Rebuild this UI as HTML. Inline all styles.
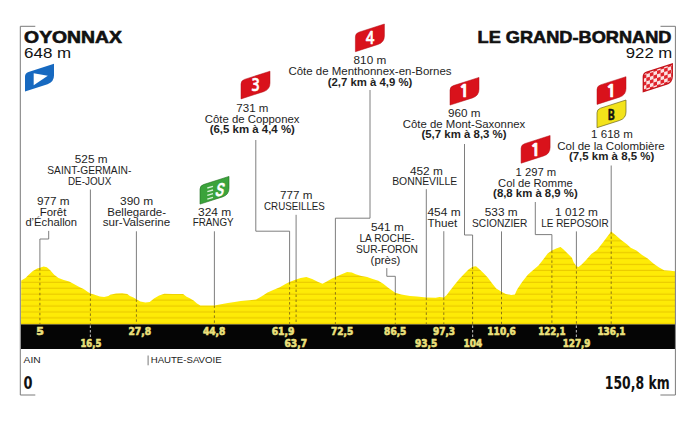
<!DOCTYPE html>
<html><head><meta charset="utf-8"><title>Stage profile Oyonnax - Le Grand-Bornand</title>
<style>html,body{margin:0;padding:0;background:#fff;overflow:hidden}svg{display:block}</style>
</head><body>
<svg width="700" height="422" viewBox="0 0 700 422">
<defs>
<pattern id="stripes" patternUnits="userSpaceOnUse" x="0" y="87.20" width="10" height="5.93">
<rect x="0" y="0" width="10" height="5.93" fill="#feeb06"/>
<rect x="0" y="4.75" width="10" height="1.18" fill="#eacb00"/>
</pattern>
</defs>
<rect x="0" y="0" width="700" height="422" fill="#ffffff"/>
<polygon points="21.0,324.4 21.2,280.6 25.5,277.9 28.7,274.7 32.9,271 37.2,268.6 39.8,267.8 43.6,266.5 46.8,267.3 50,269.9 54.2,274.7 58.5,277.9 63.8,280 69.2,281.6 73.4,283.8 79.3,287 83.6,289.1 87.9,292.1 90.4,293.4 94.7,294.7 99.9,296.4 104.1,296.9 108.4,296 110.1,294.7 116.1,293.4 122.1,293.2 127.3,293.9 129.9,296 133.4,297.6 136.4,299.3 140.3,301.4 145.4,302.5 149.7,302.1 154,298.4 159.1,295.4 164.3,293.7 172.9,293.9 183.1,294.1 186.6,296.7 189.3,297.9 193.6,300.4 197,303.4 200.4,305.4 207.3,305.6 214.4,305.4 221,304.3 227.9,303 234.7,302.1 240.7,301.1 249.5,300.3 256.1,299.6 261.8,296.3 267.5,292.5 273.2,290.1 279.8,287.3 285.5,284 289.5,282.1 295.9,279.6 300.7,278 306.4,277.1 312.1,279 317.7,281.8 322.5,283.7 327.2,281.3 332,278.5 335.4,277.1 340.5,274.7 347.1,272.1 351.9,272.6 355.7,274.2 361.4,275.9 367.1,276.9 372.7,279 378.4,280.7 383.2,283.7 387.9,287.5 391.7,290.3 395.3,292.7 401.2,294.6 410,296 416.9,296.5 426.3,297.4 435.8,297.7 439.4,296.9 443.8,297.4 446.5,295.3 450.1,290.6 454.8,284.6 459.5,278.7 464.3,273.7 468.5,269.4 472.6,266.7 476,266.2 479.2,268.9 483.4,273.1 487.7,277.4 492,283.2 496.2,288.6 501.5,291.8 505.8,293.9 511.2,295 514.9,294.4 517.1,289.5 522.1,281.9 527.8,274.8 533.5,269.8 538.5,265.6 543.4,259.2 547.7,253.5 551.9,250.4 556.2,248.5 560.5,247.1 563.3,249.2 567.6,253.5 571.9,257.7 573.6,262.3 576.4,266.2 578.5,267 581.4,264.8 585.6,260.5 591.3,254.1 597,249.9 602.7,242.8 607,237.1 611.2,231.4 615.5,235 621.2,239.9 626.9,244.2 630.7,247.8 636.4,250.6 642.1,254.9 647.7,258.5 653.4,263.4 659.1,267.4 664.1,270.3 670.5,270.8 675,271.3 675.0,324.4" fill="url(#stripes)"/>
<rect x="21.0" y="324.4" width="654.0" height="24.600000000000023" fill="#050505"/>
<path d="M35.3,26.3 H20.3 V395 H35.3" fill="none" stroke="#7a7a7a" stroke-width="1"/>
<path d="M660.5,26.3 H675.4 V395 H660.4" fill="none" stroke="#7a7a7a" stroke-width="1"/>
<path d="M90.4,189.5 L90.4,293.4" fill="none" stroke="#6f6f6f" stroke-width="0.9"/>
<line x1="90.4" y1="293.4" x2="90.4" y2="324.4" stroke="#8c7614" stroke-width="1" stroke-dasharray="2.5,2.5"/>
<path d="M48.7,230.9 L48.7,239.0 L39.9,239.0 L39.9,267.8" fill="none" stroke="#6f6f6f" stroke-width="0.9"/>
<line x1="39.9" y1="267.8" x2="39.9" y2="324.4" stroke="#8c7614" stroke-width="1" stroke-dasharray="2.5,2.5"/>
<path d="M136.4,231.3 L136.4,299.3" fill="none" stroke="#6f6f6f" stroke-width="0.9"/>
<line x1="136.4" y1="299.3" x2="136.4" y2="324.4" stroke="#8c7614" stroke-width="1" stroke-dasharray="2.5,2.5"/>
<path d="M214.4,231.3 L214.4,305.4" fill="none" stroke="#6f6f6f" stroke-width="0.9"/>
<line x1="214.4" y1="305.4" x2="214.4" y2="324.4" stroke="#8c7614" stroke-width="1" stroke-dasharray="2.5,2.5"/>
<path d="M255.8,140.0 L255.8,231.2 L289.6,231.2 L289.6,282.1" fill="none" stroke="#6f6f6f" stroke-width="0.9"/>
<line x1="289.6" y1="282.1" x2="289.6" y2="324.4" stroke="#8c7614" stroke-width="1" stroke-dasharray="2.5,2.5"/>
<path d="M296.1,214.8 L296.1,279.5" fill="none" stroke="#6f6f6f" stroke-width="0.9"/>
<line x1="296.1" y1="279.5" x2="296.1" y2="324.4" stroke="#8c7614" stroke-width="1" stroke-dasharray="2.5,2.5"/>
<path d="M370,90.0 L370,218.2 L335.4,218.2 L335.4,277.1" fill="none" stroke="#6f6f6f" stroke-width="0.9"/>
<line x1="335.4" y1="277.1" x2="335.4" y2="324.4" stroke="#8c7614" stroke-width="1" stroke-dasharray="2.5,2.5"/>
<path d="M386.8,268.1 L386.8,276.3 L395.3,276.3 L395.3,292.7" fill="none" stroke="#6f6f6f" stroke-width="0.9"/>
<line x1="395.3" y1="292.7" x2="395.3" y2="324.4" stroke="#8c7614" stroke-width="1" stroke-dasharray="2.5,2.5"/>
<path d="M426.3,189.2 L426.3,297.4" fill="none" stroke="#6f6f6f" stroke-width="0.9"/>
<line x1="426.3" y1="297.4" x2="426.3" y2="324.4" stroke="#8c7614" stroke-width="1" stroke-dasharray="2.5,2.5"/>
<path d="M443.8,231.2 L443.8,297.4" fill="none" stroke="#6f6f6f" stroke-width="0.9"/>
<line x1="443.8" y1="297.4" x2="443.8" y2="324.4" stroke="#8c7614" stroke-width="1" stroke-dasharray="2.5,2.5"/>
<path d="M464.5,144.0 L464.5,235.0 L472.6,235.0 L472.6,266.7" fill="none" stroke="#6f6f6f" stroke-width="0.9"/>
<line x1="472.6" y1="266.7" x2="472.6" y2="324.4" stroke="#8c7614" stroke-width="1" stroke-dasharray="2.5,2.5"/>
<path d="M501.5,231.4 L501.5,291.8" fill="none" stroke="#6f6f6f" stroke-width="0.9"/>
<line x1="501.5" y1="291.8" x2="501.5" y2="324.4" stroke="#8c7614" stroke-width="1" stroke-dasharray="2.5,2.5"/>
<path d="M535.3,202.0 L535.3,234.6 L551.9,234.6 L551.9,250.4" fill="none" stroke="#6f6f6f" stroke-width="0.9"/>
<line x1="551.9" y1="250.4" x2="551.9" y2="324.4" stroke="#8c7614" stroke-width="1" stroke-dasharray="2.5,2.5"/>
<path d="M576.4,231.4 L576.4,266.2" fill="none" stroke="#6f6f6f" stroke-width="0.9"/>
<line x1="576.4" y1="266.2" x2="576.4" y2="324.4" stroke="#8c7614" stroke-width="1" stroke-dasharray="2.5,2.5"/>
<path d="M611.2,165.5 L611.2,231.4" fill="none" stroke="#6f6f6f" stroke-width="0.9"/>
<line x1="611.2" y1="231.4" x2="611.2" y2="324.4" stroke="#8c7614" stroke-width="1" stroke-dasharray="2.5,2.5"/>
<line x1="90.4" y1="325.4" x2="90.4" y2="338.5" stroke="#a5a5a5" stroke-width="1.2" stroke-dasharray="2.5,2"/>
<line x1="472.6" y1="325.4" x2="472.6" y2="338.5" stroke="#a5a5a5" stroke-width="1.2" stroke-dasharray="2.5,2"/>
<line x1="576.4" y1="325.4" x2="576.4" y2="338.5" stroke="#a5a5a5" stroke-width="1.2" stroke-dasharray="2.5,2"/>
<text x="24.1" y="43.1" font-size="16.3" font-weight="bold" fill="#111" stroke="#111" stroke-width="0.6" textLength="97.9" lengthAdjust="spacingAndGlyphs" font-family='"Liberation Sans", "DejaVu Sans", sans-serif'>OYONNAX</text>
<text x="24.1" y="57.9" font-size="15" font-weight="normal" fill="#111" textLength="47.1" lengthAdjust="spacingAndGlyphs" font-family='"Liberation Sans", "DejaVu Sans", sans-serif'>648 m</text>
<text x="477.6" y="43.3" font-size="16.3" font-weight="bold" fill="#111" stroke="#111" stroke-width="0.6" textLength="193.8" lengthAdjust="spacingAndGlyphs" font-family='"Liberation Sans", "DejaVu Sans", sans-serif'>LE GRAND-BORNAND</text>
<text x="625.8" y="57.7" font-size="15" font-weight="normal" fill="#111" textLength="46.5" lengthAdjust="spacingAndGlyphs" font-family='"Liberation Sans", "DejaVu Sans", sans-serif'>922 m</text>
<text x="74.8" y="163.1" font-size="10.5" font-weight="normal" fill="#1e1e1e" textLength="32.7" lengthAdjust="spacingAndGlyphs" font-family='"Liberation Sans", "DejaVu Sans", sans-serif'>525 m</text>
<text x="47.3" y="174.0" font-size="10.5" font-weight="normal" fill="#1e1e1e" textLength="84.0" lengthAdjust="spacingAndGlyphs" font-family='"Liberation Sans", "DejaVu Sans", sans-serif'>SAINT-GERMAIN-</text>
<text x="68.0" y="184.5" font-size="10.5" font-weight="normal" fill="#1e1e1e" textLength="43.3" lengthAdjust="spacingAndGlyphs" font-family='"Liberation Sans", "DejaVu Sans", sans-serif'>DE-JOUX</text>
<text x="36.9" y="205.0" font-size="10.5" font-weight="normal" fill="#1e1e1e" textLength="32.6" lengthAdjust="spacingAndGlyphs" font-family='"Liberation Sans", "DejaVu Sans", sans-serif'>977 m</text>
<text x="39.7" y="215.7" font-size="10.5" font-weight="normal" fill="#1e1e1e" textLength="26.7" lengthAdjust="spacingAndGlyphs" font-family='"Liberation Sans", "DejaVu Sans", sans-serif'>Forêt</text>
<text x="25.4" y="226.3" font-size="10.5" font-weight="normal" fill="#1e1e1e" textLength="51.7" lengthAdjust="spacingAndGlyphs" font-family='"Liberation Sans", "DejaVu Sans", sans-serif'>d’Échallon</text>
<text x="120.1" y="204.8" font-size="10.5" font-weight="normal" fill="#1e1e1e" textLength="33.1" lengthAdjust="spacingAndGlyphs" font-family='"Liberation Sans", "DejaVu Sans", sans-serif'>390 m</text>
<text x="107.3" y="215.6" font-size="10.5" font-weight="normal" fill="#1e1e1e" textLength="58.7" lengthAdjust="spacingAndGlyphs" font-family='"Liberation Sans", "DejaVu Sans", sans-serif'>Bellegarde-</text>
<text x="102.7" y="226.4" font-size="10.5" font-weight="normal" fill="#1e1e1e" textLength="67.5" lengthAdjust="spacingAndGlyphs" font-family='"Liberation Sans", "DejaVu Sans", sans-serif'>sur-Valserine</text>
<text x="198.0" y="215.6" font-size="10.5" font-weight="normal" fill="#1e1e1e" textLength="33.3" lengthAdjust="spacingAndGlyphs" font-family='"Liberation Sans", "DejaVu Sans", sans-serif'>324 m</text>
<text x="192.7" y="226.4" font-size="10.5" font-weight="normal" fill="#1e1e1e" textLength="41.0" lengthAdjust="spacingAndGlyphs" font-family='"Liberation Sans", "DejaVu Sans", sans-serif'>FRANGY</text>
<text x="236.3" y="112.1" font-size="10.5" font-weight="normal" fill="#1e1e1e" textLength="32.1" lengthAdjust="spacingAndGlyphs" font-family='"Liberation Sans", "DejaVu Sans", sans-serif'>731 m</text>
<text x="204.8" y="123.1" font-size="10.5" font-weight="normal" fill="#1e1e1e" textLength="94.7" lengthAdjust="spacingAndGlyphs" font-family='"Liberation Sans", "DejaVu Sans", sans-serif'>Côte de Copponex</text>
<text x="209.7" y="133.1" font-size="10.5" font-weight="bold" fill="#1e1e1e" textLength="85.2" lengthAdjust="spacingAndGlyphs" font-family='"Liberation Sans", "DejaVu Sans", sans-serif'>(6,5 km à 4,4 %)</text>
<text x="280.1" y="199.1" font-size="10.5" font-weight="normal" fill="#1e1e1e" textLength="32.4" lengthAdjust="spacingAndGlyphs" font-family='"Liberation Sans", "DejaVu Sans", sans-serif'>777 m</text>
<text x="264.0" y="209.9" font-size="10.5" font-weight="normal" fill="#1e1e1e" textLength="60.9" lengthAdjust="spacingAndGlyphs" font-family='"Liberation Sans", "DejaVu Sans", sans-serif'>CRUSEILLES</text>
<text x="353.6" y="63.5" font-size="10.5" font-weight="normal" fill="#1e1e1e" textLength="32.6" lengthAdjust="spacingAndGlyphs" font-family='"Liberation Sans", "DejaVu Sans", sans-serif'>810 m</text>
<text x="288.4" y="74.5" font-size="10.5" font-weight="normal" fill="#1e1e1e" textLength="163.2" lengthAdjust="spacingAndGlyphs" font-family='"Liberation Sans", "DejaVu Sans", sans-serif'>Côte de Menthonnex-en-Bornes</text>
<text x="327.7" y="85.5" font-size="10.5" font-weight="bold" fill="#1e1e1e" textLength="84.6" lengthAdjust="spacingAndGlyphs" font-family='"Liberation Sans", "DejaVu Sans", sans-serif'>(2,7 km à 4,9 %)</text>
<text x="371.0" y="230.7" font-size="10.5" font-weight="normal" fill="#1e1e1e" textLength="32.8" lengthAdjust="spacingAndGlyphs" font-family='"Liberation Sans", "DejaVu Sans", sans-serif'>541 m</text>
<text x="359.4" y="241.5" font-size="10.5" font-weight="normal" fill="#1e1e1e" textLength="55.1" lengthAdjust="spacingAndGlyphs" font-family='"Liberation Sans", "DejaVu Sans", sans-serif'>LA ROCHE-</text>
<text x="356.0" y="252.8" font-size="10.5" font-weight="normal" fill="#1e1e1e" textLength="61.8" lengthAdjust="spacingAndGlyphs" font-family='"Liberation Sans", "DejaVu Sans", sans-serif'>SUR-FORON</text>
<text x="370.6" y="263.5" font-size="10.5" font-weight="normal" fill="#1e1e1e" textLength="29.8" lengthAdjust="spacingAndGlyphs" font-family='"Liberation Sans", "DejaVu Sans", sans-serif'>(près)</text>
<text x="409.9" y="174.5" font-size="10.5" font-weight="normal" fill="#1e1e1e" textLength="32.9" lengthAdjust="spacingAndGlyphs" font-family='"Liberation Sans", "DejaVu Sans", sans-serif'>452 m</text>
<text x="392.2" y="185.2" font-size="10.5" font-weight="normal" fill="#1e1e1e" textLength="65.1" lengthAdjust="spacingAndGlyphs" font-family='"Liberation Sans", "DejaVu Sans", sans-serif'>BONNEVILLE</text>
<text x="427.5" y="215.5" font-size="10.5" font-weight="normal" fill="#1e1e1e" textLength="33.1" lengthAdjust="spacingAndGlyphs" font-family='"Liberation Sans", "DejaVu Sans", sans-serif'>454 m</text>
<text x="427.5" y="226.6" font-size="10.5" font-weight="normal" fill="#1e1e1e" textLength="29.8" lengthAdjust="spacingAndGlyphs" font-family='"Liberation Sans", "DejaVu Sans", sans-serif'>Thuet</text>
<text x="448.0" y="117.0" font-size="10.5" font-weight="normal" fill="#1e1e1e" textLength="32.5" lengthAdjust="spacingAndGlyphs" font-family='"Liberation Sans", "DejaVu Sans", sans-serif'>960 m</text>
<text x="402.8" y="128.0" font-size="10.5" font-weight="normal" fill="#1e1e1e" textLength="122.4" lengthAdjust="spacingAndGlyphs" font-family='"Liberation Sans", "DejaVu Sans", sans-serif'>Côte de Mont-Saxonnex</text>
<text x="421.4" y="138.0" font-size="10.5" font-weight="bold" fill="#1e1e1e" textLength="85.2" lengthAdjust="spacingAndGlyphs" font-family='"Liberation Sans", "DejaVu Sans", sans-serif'>(5,7 km à 8,3 %)</text>
<text x="484.8" y="215.8" font-size="10.5" font-weight="normal" fill="#1e1e1e" textLength="32.8" lengthAdjust="spacingAndGlyphs" font-family='"Liberation Sans", "DejaVu Sans", sans-serif'>533 m</text>
<text x="472.0" y="226.7" font-size="10.5" font-weight="normal" fill="#1e1e1e" textLength="55.4" lengthAdjust="spacingAndGlyphs" font-family='"Liberation Sans", "DejaVu Sans", sans-serif'>SCIONZIER</text>
<text x="515.5" y="176.0" font-size="10.5" font-weight="normal" fill="#1e1e1e" textLength="40.7" lengthAdjust="spacingAndGlyphs" font-family='"Liberation Sans", "DejaVu Sans", sans-serif'>1 297 m</text>
<text x="498.1" y="187.2" font-size="10.5" font-weight="normal" fill="#1e1e1e" textLength="74.6" lengthAdjust="spacingAndGlyphs" font-family='"Liberation Sans", "DejaVu Sans", sans-serif'>Col de Romme</text>
<text x="493.1" y="196.5" font-size="10.5" font-weight="bold" fill="#1e1e1e" textLength="84.6" lengthAdjust="spacingAndGlyphs" font-family='"Liberation Sans", "DejaVu Sans", sans-serif'>(8,8 km à 8,9 %)</text>
<text x="555.1" y="215.8" font-size="10.5" font-weight="normal" fill="#1e1e1e" textLength="42.8" lengthAdjust="spacingAndGlyphs" font-family='"Liberation Sans", "DejaVu Sans", sans-serif'>1 012 m</text>
<text x="541.2" y="226.7" font-size="10.5" font-weight="normal" fill="#1e1e1e" textLength="67.6" lengthAdjust="spacingAndGlyphs" font-family='"Liberation Sans", "DejaVu Sans", sans-serif'>LE REPOSOIR</text>
<text x="591.1" y="138.2" font-size="10.5" font-weight="normal" fill="#1e1e1e" textLength="41.7" lengthAdjust="spacingAndGlyphs" font-family='"Liberation Sans", "DejaVu Sans", sans-serif'>1 618 m</text>
<text x="557.2" y="149.9" font-size="10.5" font-weight="normal" fill="#1e1e1e" textLength="107.5" lengthAdjust="spacingAndGlyphs" font-family='"Liberation Sans", "DejaVu Sans", sans-serif'>Col de la Colombière</text>
<text x="568.9" y="159.8" font-size="10.5" font-weight="bold" fill="#1e1e1e" textLength="85.4" lengthAdjust="spacingAndGlyphs" font-family='"Liberation Sans", "DejaVu Sans", sans-serif'>(7,5 km à 8,5 %)</text>
<text x="36.2" y="335.3" font-size="10.8" font-weight="bold" fill="#ebe07c" font-stretch="condensed" stroke="#ebe07c" stroke-width="0.6" textLength="7.6" lengthAdjust="spacingAndGlyphs" font-family='"DejaVu Sans", "Liberation Sans", sans-serif'>5</text>
<text x="128.4" y="335.3" font-size="10.8" font-weight="bold" fill="#ebe07c" font-stretch="condensed" stroke="#ebe07c" stroke-width="0.6" textLength="22.7" lengthAdjust="spacingAndGlyphs" font-family='"DejaVu Sans", "Liberation Sans", sans-serif'>27,8</text>
<text x="202.9" y="335.3" font-size="10.8" font-weight="bold" fill="#ebe07c" font-stretch="condensed" stroke="#ebe07c" stroke-width="0.6" textLength="22.5" lengthAdjust="spacingAndGlyphs" font-family='"DejaVu Sans", "Liberation Sans", sans-serif'>44,8</text>
<text x="271.7" y="335.3" font-size="10.8" font-weight="bold" fill="#ebe07c" font-stretch="condensed" stroke="#ebe07c" stroke-width="0.6" textLength="22.7" lengthAdjust="spacingAndGlyphs" font-family='"DejaVu Sans", "Liberation Sans", sans-serif'>61,9</text>
<text x="331.0" y="335.3" font-size="10.8" font-weight="bold" fill="#ebe07c" font-stretch="condensed" stroke="#ebe07c" stroke-width="0.6" textLength="22.3" lengthAdjust="spacingAndGlyphs" font-family='"DejaVu Sans", "Liberation Sans", sans-serif'>72,5</text>
<text x="384.1" y="335.3" font-size="10.8" font-weight="bold" fill="#ebe07c" font-stretch="condensed" stroke="#ebe07c" stroke-width="0.6" textLength="22.3" lengthAdjust="spacingAndGlyphs" font-family='"DejaVu Sans", "Liberation Sans", sans-serif'>86,5</text>
<text x="433.0" y="335.3" font-size="10.8" font-weight="bold" fill="#ebe07c" font-stretch="condensed" stroke="#ebe07c" stroke-width="0.6" textLength="22.1" lengthAdjust="spacingAndGlyphs" font-family='"DejaVu Sans", "Liberation Sans", sans-serif'>97,3</text>
<text x="487.3" y="335.3" font-size="10.8" font-weight="bold" fill="#ebe07c" font-stretch="condensed" stroke="#ebe07c" stroke-width="0.6" textLength="28.6" lengthAdjust="spacingAndGlyphs" font-family='"DejaVu Sans", "Liberation Sans", sans-serif'>110,6</text>
<text x="538.2" y="335.3" font-size="10.8" font-weight="bold" fill="#ebe07c" font-stretch="condensed" stroke="#ebe07c" stroke-width="0.6" textLength="27.4" lengthAdjust="spacingAndGlyphs" font-family='"DejaVu Sans", "Liberation Sans", sans-serif'>122,1</text>
<text x="597.4" y="335.3" font-size="10.8" font-weight="bold" fill="#ebe07c" font-stretch="condensed" stroke="#ebe07c" stroke-width="0.6" textLength="28.1" lengthAdjust="spacingAndGlyphs" font-family='"DejaVu Sans", "Liberation Sans", sans-serif'>136,1</text>
<text x="80.4" y="347.4" font-size="10.8" font-weight="bold" fill="#ebe07c" font-stretch="condensed" stroke="#ebe07c" stroke-width="0.6" textLength="20.9" lengthAdjust="spacingAndGlyphs" font-family='"DejaVu Sans", "Liberation Sans", sans-serif'>16,5</text>
<text x="284.5" y="347.4" font-size="10.8" font-weight="bold" fill="#ebe07c" font-stretch="condensed" stroke="#ebe07c" stroke-width="0.6" textLength="22.5" lengthAdjust="spacingAndGlyphs" font-family='"DejaVu Sans", "Liberation Sans", sans-serif'>63,7</text>
<text x="415.0" y="347.4" font-size="10.8" font-weight="bold" fill="#ebe07c" font-stretch="condensed" stroke="#ebe07c" stroke-width="0.6" textLength="22.3" lengthAdjust="spacingAndGlyphs" font-family='"DejaVu Sans", "Liberation Sans", sans-serif'>93,5</text>
<text x="463.5" y="347.4" font-size="10.8" font-weight="bold" fill="#ebe07c" font-stretch="condensed" stroke="#ebe07c" stroke-width="0.6" textLength="18.7" lengthAdjust="spacingAndGlyphs" font-family='"DejaVu Sans", "Liberation Sans", sans-serif'>104</text>
<text x="562.7" y="347.4" font-size="10.8" font-weight="bold" fill="#ebe07c" font-stretch="condensed" stroke="#ebe07c" stroke-width="0.6" textLength="27.8" lengthAdjust="spacingAndGlyphs" font-family='"DejaVu Sans", "Liberation Sans", sans-serif'>127,9</text>
<text x="23.6" y="362.8" font-size="9" font-weight="normal" fill="#222" textLength="17.1" lengthAdjust="spacingAndGlyphs" font-family='"Liberation Sans", "DejaVu Sans", sans-serif'>AIN</text>
<line x1="148.1" y1="355.5" x2="148.1" y2="365.3" stroke="#777" stroke-width="1"/>
<text x="150.7" y="363.0" font-size="9" font-weight="normal" fill="#222" textLength="70.9" lengthAdjust="spacingAndGlyphs" font-family='"Liberation Sans", "DejaVu Sans", sans-serif'>HAUTE-SAVOIE</text>
<text x="23.6" y="388.8" font-size="18.5" font-weight="bold" fill="#111" font-stretch="condensed" textLength="9.0" lengthAdjust="spacingAndGlyphs" font-family='"DejaVu Sans", "Liberation Sans", sans-serif'>0</text>
<text x="604.8" y="388.8" font-size="18.5" font-weight="bold" fill="#111" font-stretch="condensed" textLength="64.8" lengthAdjust="spacingAndGlyphs" font-family='"DejaVu Sans", "Liberation Sans", sans-serif'>150,8 km</text>
<path d="M25.00,91.40 L25.00,76.50 Q25.00,73.00 28.50,71.88 L54.00,63.70 L54.00,75.60 Q54.00,82.10 47.50,84.18 Z" fill="#1769c0" stroke="none" stroke-width="0"/>
<path d="M33.7,73.3 L33.7,85.3 L47.8,75.8 Z" fill="#ffffff"/>
<path d="M200.00,204.10 L200.00,189.20 Q200.00,185.70 203.50,184.58 L229.00,176.40 L229.00,188.30 Q229.00,194.80 222.50,196.88 Z" fill="#3ba33b" stroke="#1f6e1f" stroke-width="0.6"/>
<text x="0" y="0" font-size="18.6" font-weight="bold" fill="#fff" stroke="#fff" stroke-width="0.4" text-anchor="middle" font-family='"Liberation Sans", "DejaVu Sans", sans-serif' transform="translate(218.6,196.2) skewX(-14) scale(0.68,1)">S</text>
<line x1="207.3" y1="188.0" x2="213" y2="186.3" stroke="#d8f2d8" stroke-width="1.4"/>
<line x1="207.3" y1="191.7" x2="213" y2="190.0" stroke="#d8f2d8" stroke-width="1.4"/>
<line x1="207.3" y1="195.4" x2="213" y2="193.7" stroke="#d8f2d8" stroke-width="1.4"/>
<line x1="207.3" y1="199.1" x2="213" y2="197.4" stroke="#d8f2d8" stroke-width="1.4"/>
<path d="M241.00,98.90 L241.00,84.00 Q241.00,80.50 244.50,79.38 L270.00,71.20 L270.00,83.10 Q270.00,89.60 263.50,91.68 Z" fill="#d9121b" stroke="#b00d14" stroke-width="0.5"/>
<text x="0" y="91.30" font-size="16.5" font-weight="bold" fill="#fff" stroke="#fff" stroke-width="0.55" text-anchor="middle" font-family='"NanumGothic", "Liberation Sans", sans-serif' transform="translate(255.60,0) scale(0.87,1)">3</text>
<path d="M355.40,51.70 L355.40,36.80 Q355.40,33.30 358.90,32.18 L384.40,24.00 L384.40,35.90 Q384.40,42.40 377.90,44.48 Z" fill="#d9121b" stroke="#b00d14" stroke-width="0.5"/>
<text x="0" y="44.10" font-size="16.5" font-weight="bold" fill="#fff" stroke="#fff" stroke-width="0.55" text-anchor="middle" font-family='"NanumGothic", "Liberation Sans", sans-serif' transform="translate(370.00,0) scale(0.87,1)">4</text>
<path d="M450.00,105.10 L450.00,90.20 Q450.00,86.70 453.50,85.58 L479.00,77.40 L479.00,89.30 Q479.00,95.80 472.50,97.88 Z" fill="#d9121b" stroke="#b00d14" stroke-width="0.5"/>
<text x="0" y="97.50" font-size="16.5" font-weight="bold" fill="#fff" stroke="#fff" stroke-width="0.75" text-anchor="middle" font-family='"NanumGothic", "Liberation Sans", sans-serif' transform="translate(464.30,0) scale(1.1,1)">1</text>
<path d="M521.10,163.20 L521.10,148.30 Q521.10,144.80 524.60,143.68 L550.10,135.50 L550.10,147.40 Q550.10,153.90 543.60,155.98 Z" fill="#d9121b" stroke="#b00d14" stroke-width="0.5"/>
<text x="0" y="155.60" font-size="16.5" font-weight="bold" fill="#fff" stroke="#fff" stroke-width="0.75" text-anchor="middle" font-family='"NanumGothic", "Liberation Sans", sans-serif' transform="translate(535.40,0) scale(1.1,1)">1</text>
<path d="M597.00,104.40 L597.00,89.50 Q597.00,86.00 600.50,84.88 L626.00,76.70 L626.00,88.60 Q626.00,95.10 619.50,97.18 Z" fill="#d9121b" stroke="#b00d14" stroke-width="0.5"/>
<text x="0" y="96.80" font-size="16.5" font-weight="bold" fill="#fff" stroke="#fff" stroke-width="0.75" text-anchor="middle" font-family='"NanumGothic", "Liberation Sans", sans-serif' transform="translate(611.30,0) scale(1.1,1)">1</text>
<path d="M597.00,127.70 L597.00,112.80 Q597.00,109.30 600.50,108.18 L626.00,100.00 L626.00,111.90 Q626.00,118.40 619.50,120.48 Z" fill="#f3e31a" stroke="#6b6420" stroke-width="0.7"/>
<text x="0" y="119.83" font-size="14" font-weight="bold" fill="#111" stroke="#111" stroke-width="0.5" text-anchor="middle" font-family='"NanumGothic", "Liberation Sans", sans-serif' transform="translate(611.20,0) scale(0.9,1)">B</text>
<clipPath id="cf"><path d="M643.30,91.70 L643.30,76.80 Q643.30,73.30 646.80,72.18 L672.30,64.00 L672.30,75.90 Q672.30,82.40 665.80,84.48 Z"/></clipPath>
<g clip-path="url(#cf)"><path d="M643.30,91.70 L643.30,76.80 Q643.30,73.30 646.80,72.18 L672.30,64.00 L672.30,75.90 Q672.30,82.40 665.80,84.48 Z" fill="#fbe3e3"/><path d="M642.80,61.16 l3.55,-1.14 l0,3.55 l-3.55,1.14 Z" fill="#e0242c"/><path d="M642.80,68.26 l3.55,-1.14 l0,3.55 l-3.55,1.14 Z" fill="#e0242c"/><path d="M642.80,75.36 l3.55,-1.14 l0,3.55 l-3.55,1.14 Z" fill="#e0242c"/><path d="M642.80,82.46 l3.55,-1.14 l0,3.55 l-3.55,1.14 Z" fill="#e0242c"/><path d="M642.80,89.56 l3.55,-1.14 l0,3.55 l-3.55,1.14 Z" fill="#e0242c"/><path d="M642.80,96.66 l3.55,-1.14 l0,3.55 l-3.55,1.14 Z" fill="#e0242c"/><path d="M646.35,63.57 l3.55,-1.14 l0,3.55 l-3.55,1.14 Z" fill="#e0242c"/><path d="M646.35,70.67 l3.55,-1.14 l0,3.55 l-3.55,1.14 Z" fill="#e0242c"/><path d="M646.35,77.77 l3.55,-1.14 l0,3.55 l-3.55,1.14 Z" fill="#e0242c"/><path d="M646.35,84.87 l3.55,-1.14 l0,3.55 l-3.55,1.14 Z" fill="#e0242c"/><path d="M646.35,91.97 l3.55,-1.14 l0,3.55 l-3.55,1.14 Z" fill="#e0242c"/><path d="M646.35,99.07 l3.55,-1.14 l0,3.55 l-3.55,1.14 Z" fill="#e0242c"/><path d="M649.90,58.89 l3.55,-1.14 l0,3.55 l-3.55,1.14 Z" fill="#e0242c"/><path d="M649.90,65.99 l3.55,-1.14 l0,3.55 l-3.55,1.14 Z" fill="#e0242c"/><path d="M649.90,73.09 l3.55,-1.14 l0,3.55 l-3.55,1.14 Z" fill="#e0242c"/><path d="M649.90,80.19 l3.55,-1.14 l0,3.55 l-3.55,1.14 Z" fill="#e0242c"/><path d="M649.90,87.29 l3.55,-1.14 l0,3.55 l-3.55,1.14 Z" fill="#e0242c"/><path d="M649.90,94.39 l3.55,-1.14 l0,3.55 l-3.55,1.14 Z" fill="#e0242c"/><path d="M653.45,61.30 l3.55,-1.14 l0,3.55 l-3.55,1.14 Z" fill="#e0242c"/><path d="M653.45,68.40 l3.55,-1.14 l0,3.55 l-3.55,1.14 Z" fill="#e0242c"/><path d="M653.45,75.50 l3.55,-1.14 l0,3.55 l-3.55,1.14 Z" fill="#e0242c"/><path d="M653.45,82.60 l3.55,-1.14 l0,3.55 l-3.55,1.14 Z" fill="#e0242c"/><path d="M653.45,89.70 l3.55,-1.14 l0,3.55 l-3.55,1.14 Z" fill="#e0242c"/><path d="M653.45,96.80 l3.55,-1.14 l0,3.55 l-3.55,1.14 Z" fill="#e0242c"/><path d="M657.00,56.62 l3.55,-1.14 l0,3.55 l-3.55,1.14 Z" fill="#e0242c"/><path d="M657.00,63.72 l3.55,-1.14 l0,3.55 l-3.55,1.14 Z" fill="#e0242c"/><path d="M657.00,70.82 l3.55,-1.14 l0,3.55 l-3.55,1.14 Z" fill="#e0242c"/><path d="M657.00,77.92 l3.55,-1.14 l0,3.55 l-3.55,1.14 Z" fill="#e0242c"/><path d="M657.00,85.02 l3.55,-1.14 l0,3.55 l-3.55,1.14 Z" fill="#e0242c"/><path d="M657.00,92.12 l3.55,-1.14 l0,3.55 l-3.55,1.14 Z" fill="#e0242c"/><path d="M660.55,59.03 l3.55,-1.14 l0,3.55 l-3.55,1.14 Z" fill="#e0242c"/><path d="M660.55,66.13 l3.55,-1.14 l0,3.55 l-3.55,1.14 Z" fill="#e0242c"/><path d="M660.55,73.23 l3.55,-1.14 l0,3.55 l-3.55,1.14 Z" fill="#e0242c"/><path d="M660.55,80.33 l3.55,-1.14 l0,3.55 l-3.55,1.14 Z" fill="#e0242c"/><path d="M660.55,87.43 l3.55,-1.14 l0,3.55 l-3.55,1.14 Z" fill="#e0242c"/><path d="M660.55,94.53 l3.55,-1.14 l0,3.55 l-3.55,1.14 Z" fill="#e0242c"/><path d="M664.10,54.34 l3.55,-1.14 l0,3.55 l-3.55,1.14 Z" fill="#e0242c"/><path d="M664.10,61.44 l3.55,-1.14 l0,3.55 l-3.55,1.14 Z" fill="#e0242c"/><path d="M664.10,68.54 l3.55,-1.14 l0,3.55 l-3.55,1.14 Z" fill="#e0242c"/><path d="M664.10,75.64 l3.55,-1.14 l0,3.55 l-3.55,1.14 Z" fill="#e0242c"/><path d="M664.10,82.74 l3.55,-1.14 l0,3.55 l-3.55,1.14 Z" fill="#e0242c"/><path d="M664.10,89.84 l3.55,-1.14 l0,3.55 l-3.55,1.14 Z" fill="#e0242c"/><path d="M667.65,56.76 l3.55,-1.14 l0,3.55 l-3.55,1.14 Z" fill="#e0242c"/><path d="M667.65,63.86 l3.55,-1.14 l0,3.55 l-3.55,1.14 Z" fill="#e0242c"/><path d="M667.65,70.96 l3.55,-1.14 l0,3.55 l-3.55,1.14 Z" fill="#e0242c"/><path d="M667.65,78.06 l3.55,-1.14 l0,3.55 l-3.55,1.14 Z" fill="#e0242c"/><path d="M667.65,85.16 l3.55,-1.14 l0,3.55 l-3.55,1.14 Z" fill="#e0242c"/><path d="M667.65,92.26 l3.55,-1.14 l0,3.55 l-3.55,1.14 Z" fill="#e0242c"/><path d="M671.20,52.07 l3.55,-1.14 l0,3.55 l-3.55,1.14 Z" fill="#e0242c"/><path d="M671.20,59.17 l3.55,-1.14 l0,3.55 l-3.55,1.14 Z" fill="#e0242c"/><path d="M671.20,66.27 l3.55,-1.14 l0,3.55 l-3.55,1.14 Z" fill="#e0242c"/><path d="M671.20,73.37 l3.55,-1.14 l0,3.55 l-3.55,1.14 Z" fill="#e0242c"/><path d="M671.20,80.47 l3.55,-1.14 l0,3.55 l-3.55,1.14 Z" fill="#e0242c"/><path d="M671.20,87.57 l3.55,-1.14 l0,3.55 l-3.55,1.14 Z" fill="#e0242c"/><path d="M674.75,54.49 l3.55,-1.14 l0,3.55 l-3.55,1.14 Z" fill="#e0242c"/><path d="M674.75,61.59 l3.55,-1.14 l0,3.55 l-3.55,1.14 Z" fill="#e0242c"/><path d="M674.75,68.69 l3.55,-1.14 l0,3.55 l-3.55,1.14 Z" fill="#e0242c"/><path d="M674.75,75.79 l3.55,-1.14 l0,3.55 l-3.55,1.14 Z" fill="#e0242c"/><path d="M674.75,82.89 l3.55,-1.14 l0,3.55 l-3.55,1.14 Z" fill="#e0242c"/><path d="M674.75,89.99 l3.55,-1.14 l0,3.55 l-3.55,1.14 Z" fill="#e0242c"/></g>
<path d="M643.30,91.70 L643.30,76.80 Q643.30,73.30 646.80,72.18 L672.30,64.00 L672.30,75.90 Q672.30,82.40 665.80,84.48 Z" fill="none" stroke="#c4121a" stroke-width="1.3"/>
</svg>
</body></html>
